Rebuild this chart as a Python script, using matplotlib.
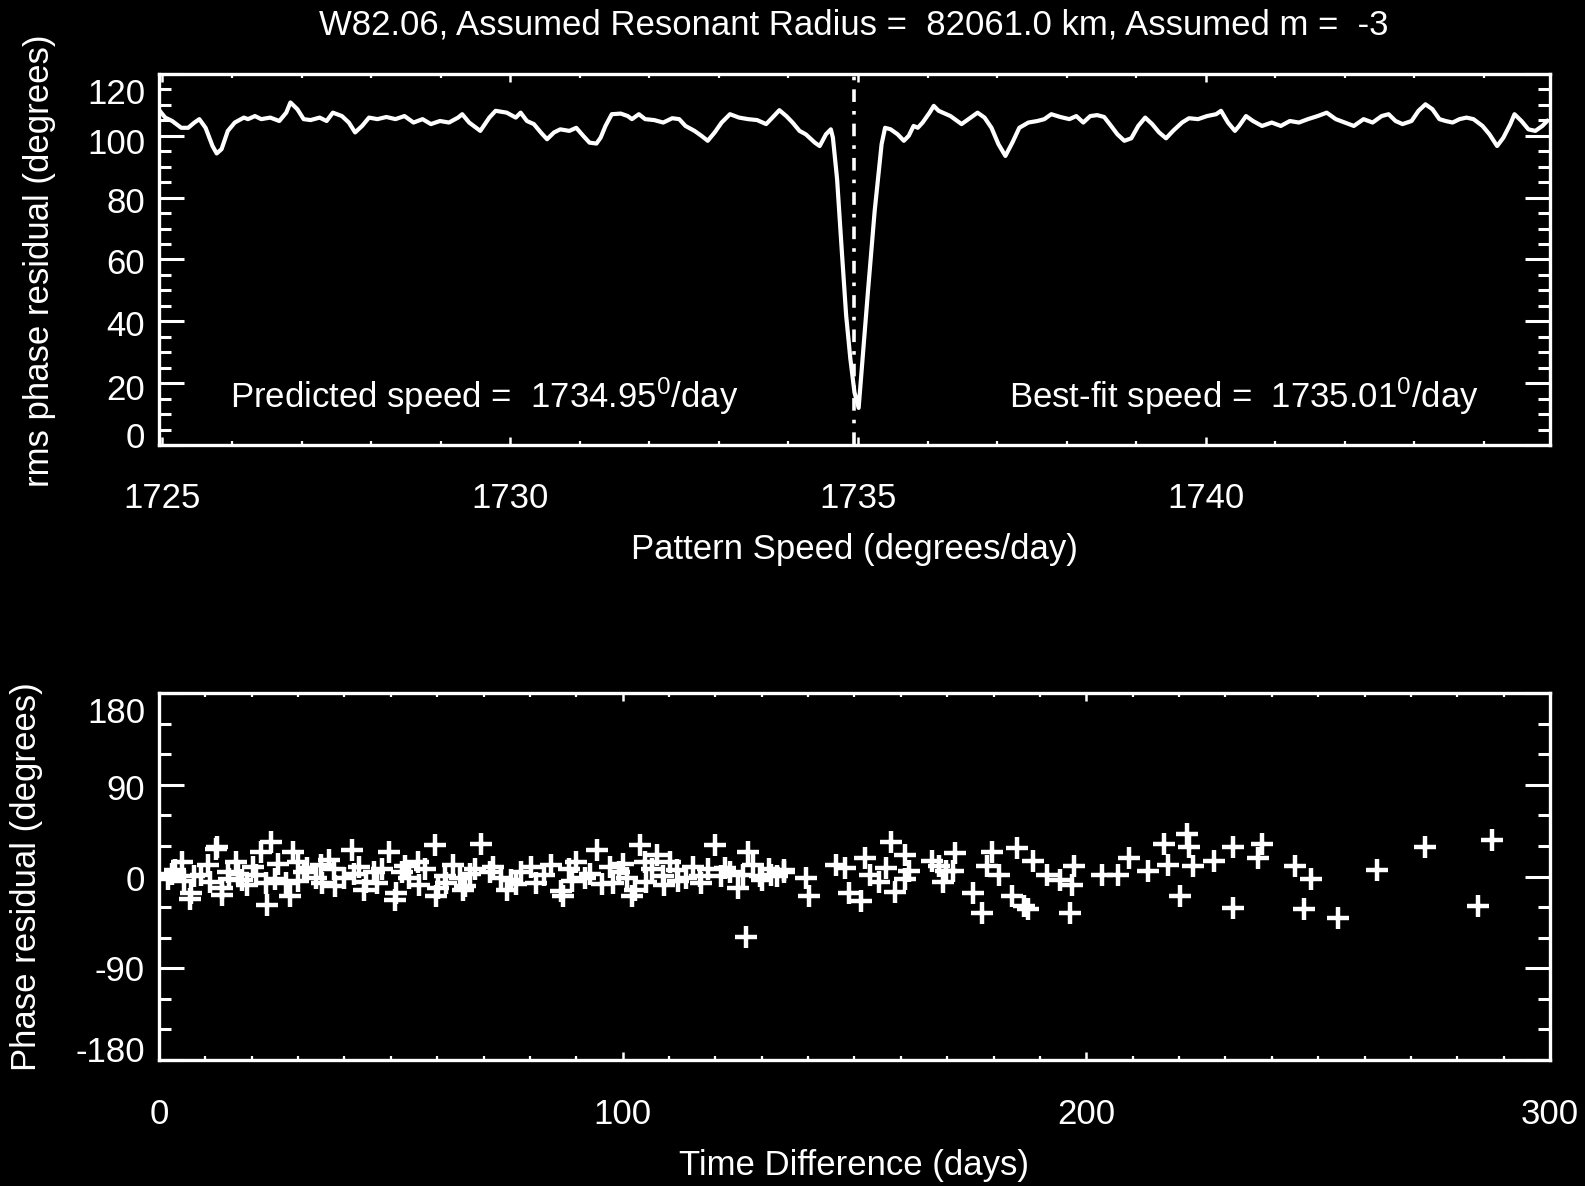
import matplotlib
matplotlib.use("Agg")
import matplotlib.pyplot as plt
from matplotlib.ticker import FixedLocator, MultipleLocator
from matplotlib.transforms import ScaledTranslation

plt.rcParams['font.family'] = ['Liberation Sans', 'DejaVu Sans']
plt.rcParams['mathtext.fontset'] = 'custom'
plt.rcParams['mathtext.rm'] = 'Liberation Sans'
plt.rcParams['mathtext.it'] = 'Liberation Sans:italic'
plt.rcParams['mathtext.bf'] = 'Liberation Sans:bold'

# ---------------- data ----------------
title = "W82.06, Assumed Resonant Radius =  82061.0 km, Assumed m =  -3"
predicted_speed = 1734.95
bestfit_speed = 1735.01
speed_range = (1724.95, 1744.95)

# rms phase residual vs trial pattern speed
speed = [
    1724.96, 1725.04, 1725.14, 1725.27, 1725.37, 1725.46, 1725.53, 1725.62, 1725.72, 1725.78,
    1725.85, 1725.94, 1726.04, 1726.17, 1726.23, 1726.33, 1726.42, 1726.55, 1726.68, 1726.78,
    1726.84, 1726.94, 1727.03, 1727.13, 1727.26, 1727.36, 1727.45, 1727.58, 1727.68, 1727.77,
    1727.87, 1727.97, 1728.09, 1728.22, 1728.35, 1728.48, 1728.61, 1728.74, 1728.86, 1728.99,
    1729.12, 1729.25, 1729.31, 1729.41, 1729.57, 1729.70, 1729.79, 1729.95, 1730.08, 1730.15,
    1730.24, 1730.34, 1730.44, 1730.53, 1730.63, 1730.72, 1730.85, 1730.95, 1731.05, 1731.14,
    1731.24, 1731.30, 1731.37, 1731.46, 1731.59, 1731.69, 1731.75, 1731.85, 1731.94, 1732.07,
    1732.20, 1732.33, 1732.43, 1732.52, 1732.65, 1732.75, 1732.84, 1732.94, 1733.04, 1733.16,
    1733.29, 1733.42, 1733.55, 1733.68, 1733.77, 1733.87, 1733.97, 1734.06, 1734.16, 1734.25,
    1734.38, 1734.45, 1734.54, 1734.61, 1734.64, 1734.70, 1734.77, 1734.83, 1734.89, 1734.95,
    1735.01, 1735.06, 1735.14, 1735.24, 1735.34, 1735.39, 1735.47, 1735.57, 1735.66, 1735.73,
    1735.80, 1735.86, 1735.93, 1736.03, 1736.09, 1736.16, 1736.33, 1736.49, 1736.59, 1736.72,
    1736.82, 1736.92, 1737.02, 1737.12, 1737.22, 1737.32, 1737.45, 1737.58, 1737.68, 1737.78,
    1737.91, 1738.04, 1738.14, 1738.24, 1738.34, 1738.44, 1738.54, 1738.64, 1738.73, 1738.83,
    1738.93, 1739.03, 1739.13, 1739.23, 1739.33, 1739.43, 1739.53, 1739.66, 1739.76, 1739.89,
    1740.02, 1740.15, 1740.22, 1740.32, 1740.42, 1740.48, 1740.58, 1740.68, 1740.81, 1740.95,
    1741.08, 1741.21, 1741.34, 1741.47, 1741.61, 1741.74, 1741.87, 1742.00, 1742.13, 1742.27,
    1742.40, 1742.53, 1742.63, 1742.73, 1742.83, 1742.96, 1743.06, 1743.16, 1743.26, 1743.36,
    1743.45, 1743.55, 1743.65, 1743.75, 1743.85, 1743.98, 1744.08, 1744.19, 1744.28, 1744.38,
    1744.44, 1744.54, 1744.64, 1744.74, 1744.84, 1744.91,
]
rms_residual = [
    108.1, 105.9, 104.8, 102.6, 102.6, 104.3, 105.4, 102.6, 96.7, 94.3,
    95.7, 101.6, 104.3, 105.9, 105.4, 106.4, 105.4, 105.9, 104.8, 107.5,
    110.8, 108.6, 105.4, 105.1, 105.9, 104.8, 107.5, 106.4, 104.3, 101.1,
    103.2, 105.9, 105.4, 106.1, 105.4, 106.4, 104.3, 105.4, 103.8, 104.8,
    104.3, 105.9, 107.0, 104.3, 101.6, 105.9, 108.1, 107.5, 105.9, 107.5,
    104.8, 103.8, 101.1, 98.9, 101.1, 102.1, 101.6, 102.6, 100.0, 97.8,
    97.5, 99.4, 103.2, 107.0, 107.2, 106.4, 105.4, 107.0, 105.4, 105.1,
    104.3, 105.7, 105.4, 103.2, 101.6, 100.0, 98.4, 101.1, 104.3, 107.0,
    105.9, 105.4, 105.1, 103.8, 105.9, 108.3, 106.4, 104.3, 101.6, 100.5,
    97.8, 96.7, 100.5, 102.1, 99.4, 86.0, 62.0, 42.0, 28.0, 17.0,
    12.0, 26.0, 48.6, 75.6, 97.3, 102.6, 102.1, 100.5, 98.4, 100.0,
    103.2, 102.6, 104.3, 107.5, 109.7, 108.1, 106.4, 103.8, 105.4, 107.5,
    105.9, 102.6, 97.3, 93.5, 97.8, 102.6, 104.3, 104.8, 105.4, 107.0,
    106.1, 105.4, 106.4, 104.3, 106.4, 106.7, 106.1, 103.2, 100.5, 98.4,
    99.2, 103.2, 105.9, 103.8, 101.1, 99.2, 101.6, 104.3, 105.7, 105.4,
    106.4, 107.0, 108.1, 104.3, 101.6, 103.2, 106.4, 104.8, 103.2, 104.3,
    103.2, 104.8, 104.3, 105.4, 106.4, 107.5, 105.4, 104.3, 103.2, 105.4,
    104.3, 106.4, 107.0, 104.8, 103.8, 104.8, 108.1, 110.2, 108.6, 105.4,
    104.8, 104.3, 105.4, 105.9, 105.4, 103.2, 100.5, 96.7, 99.4, 103.8,
    107.0, 104.8, 102.1, 101.6, 103.2, 104.8,
]

# phase residual of each observation vs time difference
time_diff = [
    2.8, 5.0, 7.0, 7.6, 10.5, 12.2, 13.7, 14.8, 16.6, 18.0,
    20.3, 22.0, 23.0, 23.3, 24.2, 25.7, 27.5, 28.3, 28.8, 30.0,
    31.2, 33.8, 35.0, 36.6, 37.7, 39.9, 41.6, 43.2, 44.7, 46.4,
    48.2, 49.7, 51.2, 52.5, 54.0, 55.8, 57.3, 59.5, 60.2, 61.7,
    63.4, 65.0, 66.1, 68.2, 69.5, 71.5, 73.7, 75.9, 78.0, 80.2,
    81.3, 84.6, 86.8, 88.5, 90.0, 91.8, 94.4, 95.5, 97.2, 99.2,
    101.0, 102.7, 103.8, 104.9, 106.4, 107.5, 108.6, 110.3, 111.8, 113.6,
    115.1, 116.6, 118.4, 119.9, 121.2, 123.2, 124.9, 127.1, 128.2, 129.7,
    131.5, 133.2, 134.7, 126.7, 139.5, 140.2, 146.0,
    2.0, 3.5, 5.5, 6.7, 9.0, 11.0, 12.5, 13.5, 15.0, 17.0,
    19.0, 21.0, 25.0, 30.0, 32.0, 35.1, 38.0, 42.0, 44.3, 47.0,
    51.0, 53.0, 56.0, 59.7, 62.0, 65.5, 67.0, 72.0, 75.1, 77.0,
    83.0, 87.1, 89.0, 93.0, 98.0, 100.0, 102.0, 105.0, 109.0, 112.0,
    117.0, 122.0, 126.0, 130.0, 132.0, 134.8,
    147.9, 152.3, 151.4, 148.9, 153.3, 155.3, 157.8, 156.8, 158.8, 160.8,
    160.8, 161.8, 166.7, 168.2, 169.2, 169.7, 171.7, 171.2, 175.6, 177.6,
    178.6, 179.6, 181.1, 185.0, 184.0, 186.5, 188.5, 187.5, 191.5, 194.4,
    197.4, 196.9, 196.4, 203.3, 206.8, 209.3, 213.2, 216.7, 217.7, 220.2,
    221.7, 222.2, 223.1, 227.6, 231.6, 231.6, 238.0, 237.0, 245.0, 246.9,
    248.4, 254.3, 262.7, 273.1, 284.5, 287.5,
]
phase_residual = [
    3, 14, -16, 1, 11, 27, -11, 4, 14, -3,
    9, 24, -6, -28, 34, 12, -6, -19, 24, 14,
    4, -1, 11, 16, 7, -1, 26, 9, -5, 4,
    7, 24, -16, 4, -1, 14, 7, 31, -11, 1,
    11, -1, -9, 7, 32, 4, -1, -3, 4, 9,
    -6, 11, -14, 7, 14, -1, 26, -7, 9, 4,
    -1, -13, 31, 14, 7, 21, 1, 14, 6, -1,
    9, 1, 7, 31, 1, 4, -11, 24, 11, 1,
    7, 1, 4, -59, -1, -19, 11,
    -2, 6, -4, -22, 2, -5, 29, -18, -2, 3,
    -8, 2, -2, -4, 8, -6, -9, 3, -13, -6,
    -23, 10, -8, -19, -6, -13, 3, 9, -13, -7,
    2, -19, -4, 3, -6, 12, -19, -5, -8, -4,
    -6, 8, 2, -3, 2, 6,
    8, 18, -24, -16, 2, -5, 34, 8, -15, 21,
    -2, 5, 15, 10, -5, 5, 23, 5, -16, -36,
    10, 24, 2, 28, -19, -29, 15, -32, 2, -3,
    10, -8, -36, 2, 2, 18, 5, 32, 11, -19,
    42, 29, 10, 15, 29, -31, 32, 18, 10, -32,
    -2, -41, 6, 29, -29, 36,
]

# axis ticks
top_xticks = [1725, 1730, 1735, 1740]
top_yticks = [0, 20, 40, 60, 80, 100, 120]
bot_xticks = [0, 100, 200, 300]
bot_yticks = [-180, -90, 0, 90, 180]

FS = 25
FG = 'white'

fig = plt.figure(figsize=(15.85, 11.86), dpi=100, facecolor='black')
ax1 = fig.add_axes([0.1003, 0.6248, 0.8776, 0.3128])
ax2 = fig.add_axes([0.1003, 0.1062, 0.8776, 0.3094])


def style_axes(ax):
    ax.set_facecolor('black')
    for sp in ax.spines.values():
        sp.set_color(FG)
        sp.set_linewidth(2.4)
    ax.tick_params(which='both', direction='in', top=True, right=True,
                   colors=FG, labelcolor=FG, labelsize=FS)
    ax.tick_params(axis='y', which='major', length=18, width=2.2, pad=10)
    ax.tick_params(axis='y', which='minor', length=8.6, width=2.2)
    ax.tick_params(axis='x', which='major', length=6, width=1.8, pad=27)
    ax.tick_params(axis='x', which='minor', length=3, width=1.6)


def shift_ylabels(ax, offsets_px):
    # nudge y tick labels vertically (positive = downward, in pixels)
    for lab, dy in zip(ax.get_yticklabels(), offsets_px):
        lab.set_transform(lab.get_transform() +
                          ScaledTranslation(0, -dy / fig.dpi, fig.dpi_scale_trans))


# ---------------- top panel ----------------
style_axes(ax1)
ax1.axvline(predicted_speed, color=FG, lw=2.6, linestyle=(0, (3.5, 2.5, 1.0, 2.5)))
ax1.plot(speed, rms_residual, color=FG, lw=3.0, solid_joinstyle='round')
ax1.set_xlim(*speed_range)
ax1.set_ylim(0, 120)
ax1.xaxis.set_major_locator(FixedLocator(top_xticks))
ax1.xaxis.set_minor_locator(MultipleLocator(1))
ax1.yaxis.set_major_locator(FixedLocator(top_yticks))
ax1.yaxis.set_minor_locator(MultipleLocator(5))
ax1.set_xticklabels([str(v) for v in top_xticks])
ax1.set_yticklabels([str(v) for v in top_yticks])

ax1.text(1725.97, 11.9, "Predicted speed =  %.2f$^{\\mathrm{0}}$/day" % predicted_speed,
         color=FG, fontsize=FS, ha='left', va='baseline')
ax1.text(1743.93, 11.9, "Best-fit speed =  %.2f$^{\\mathrm{0}}$/day" % bestfit_speed,
         color=FG, fontsize=FS, ha='right', va='baseline')

# ---------------- bottom panel ----------------
style_axes(ax2)
ax2.plot(time_diff, phase_residual, linestyle='none', marker='+',
         color=FG, markersize=16, markeredgewidth=3.2)
ax2.set_xlim(0, 300)
ax2.set_ylim(-180, 180)
ax2.xaxis.set_major_locator(FixedLocator(bot_xticks))
ax2.xaxis.set_minor_locator(MultipleLocator(10))
ax2.yaxis.set_major_locator(FixedLocator(bot_yticks))
ax2.yaxis.set_minor_locator(MultipleLocator(30))
ax2.set_xticklabels([str(v) for v in bot_xticks])
ax2.set_yticklabels([str(v) for v in bot_yticks])

shift_ylabels(ax1, [-10, 4, 2, 2, 2, 5, 17])
shift_ylabels(ax2, [-11, 0, 1, 2, 17])

# ---------------- titles and axis labels ----------------
cx = 0.5388
fig.text(cx, 1 - 25 / 1186, title, color=FG, fontsize=FS, ha='center', va='center')
fig.text(cx, 1 - 549 / 1186, "Pattern Speed (degrees/day)", color=FG, fontsize=FS,
         ha='center', va='center')
fig.text(cx, 1 - 1165 / 1186, "Time Difference (days)", color=FG, fontsize=FS,
         ha='center', va='center')
fig.text(40 / 1585, 1 - 261 / 1186, "rms phase residual (degrees)", color=FG, fontsize=FS,
         ha='center', va='center', rotation=90)
fig.text(27 / 1585, 1 - 877 / 1186, "Phase residual (degrees)", color=FG, fontsize=FS,
         ha='center', va='center', rotation=90)

fig.savefig("out.png", dpi=100, facecolor='black')
